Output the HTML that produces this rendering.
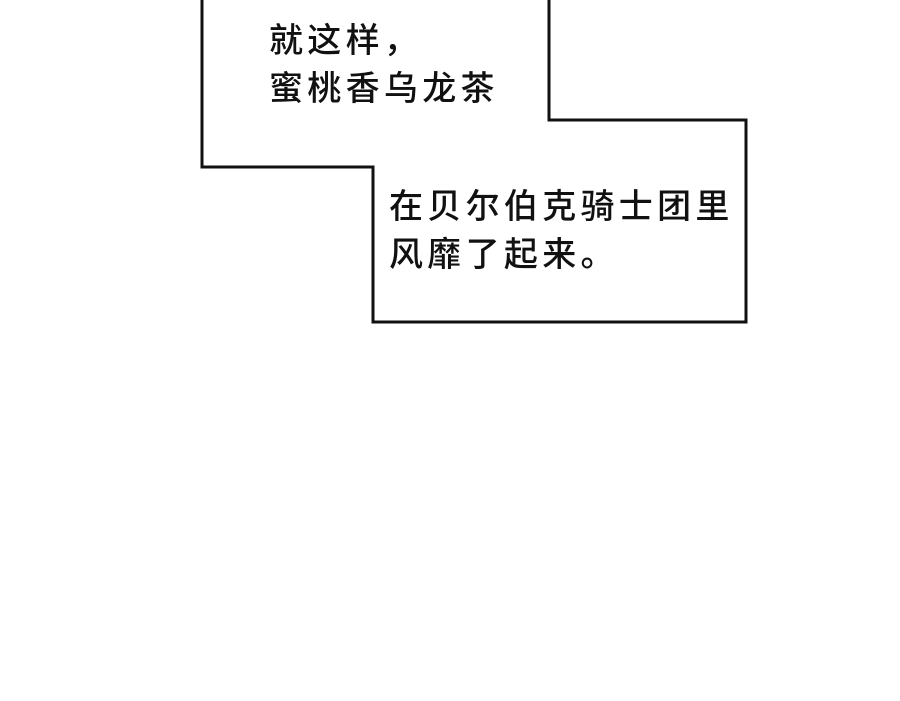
<!DOCTYPE html>
<html><head><meta charset="utf-8"><style>
html,body{margin:0;padding:0;background:#fff;}
body{width:900px;height:701px;position:relative;overflow:hidden;}
.t{position:absolute;font-family:"Liberation Sans","Noto Sans CJK SC",sans-serif;font-size:34px;line-height:48px;letter-spacing:4.3px;color:#111;white-space:nowrap;font-weight:500;}
</style></head><body>
<svg width="900" height="701" style="position:absolute;left:0;top:0">
<polyline points="202,-5 202,167 373,167 373,322 746,322 746,120 549,120 549,-5" fill="none" stroke="#111" stroke-width="3" stroke-linejoin="miter"/>
</svg>
<div class="t" style="left:269px;top:17px">就这样，<br>蜜桃香乌龙茶</div>
<div class="t" style="left:389px;top:183px">在贝尔伯克骑士团里<br>风靡了起来。</div>
</body></html>
